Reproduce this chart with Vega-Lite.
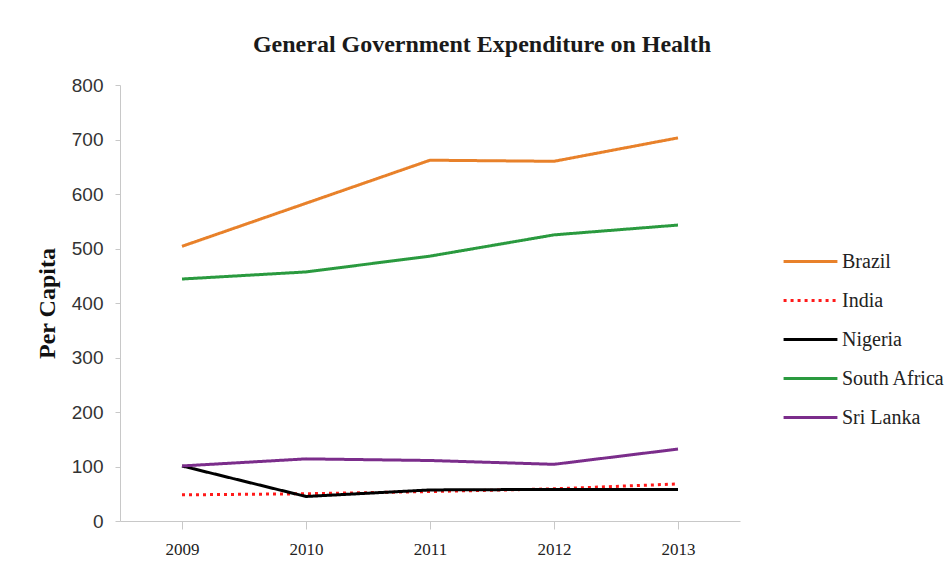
{
  "$schema": "https://vega.github.io/schema/vega-lite/v6.json",
  "width": 620,
  "height": 436,
  "autosize": {"type": "none"},
  "padding": {"left": 120, "top": 85, "right": 205, "bottom": 59},
  "background": "white",
  "title": {
    "text": "General Government Expenditure on Health",
    "font": "Liberation Serif",
    "fontSize": 24,
    "fontWeight": "bold",
    "color": "#1a1a1a",
    "anchor": "middle",
    "dx": 52,
    "offset": 19
  },
  "data": {
    "values": [
      {"country": "Brazil", "year": "2009", "value": 504},
      {"country": "Brazil", "year": "2010", "value": 583},
      {"country": "Brazil", "year": "2011", "value": 662},
      {"country": "Brazil", "year": "2012", "value": 660},
      {"country": "Brazil", "year": "2013", "value": 703},
      {"country": "India", "year": "2009", "value": 48},
      {"country": "India", "year": "2010", "value": 50},
      {"country": "India", "year": "2011", "value": 54},
      {"country": "India", "year": "2012", "value": 59},
      {"country": "India", "year": "2013", "value": 68},
      {"country": "Nigeria", "year": "2009", "value": 101},
      {"country": "Nigeria", "year": "2010", "value": 45},
      {"country": "Nigeria", "year": "2011", "value": 57},
      {"country": "Nigeria", "year": "2012", "value": 58},
      {"country": "Nigeria", "year": "2013", "value": 58},
      {"country": "South Africa", "year": "2009", "value": 444},
      {"country": "South Africa", "year": "2010", "value": 457},
      {"country": "South Africa", "year": "2011", "value": 486},
      {"country": "South Africa", "year": "2012", "value": 525},
      {"country": "South Africa", "year": "2013", "value": 543},
      {"country": "Sri Lanka", "year": "2009", "value": 101},
      {"country": "Sri Lanka", "year": "2010", "value": 114},
      {"country": "Sri Lanka", "year": "2011", "value": 111},
      {"country": "Sri Lanka", "year": "2012", "value": 104},
      {"country": "Sri Lanka", "year": "2013", "value": 132}
    ]
  },
  "mark": {"type": "line", "strokeWidth": 3},
  "encoding": {
    "x": {
      "field": "year",
      "type": "ordinal",
      "scale": {"type": "point", "padding": 0.5},
      "axis": {
        "title": null,
        "labelAngle": 0,
        "labelFont": "Liberation Serif",
        "labelFontSize": 17,
        "labelColor": "#222",
        "labelPadding": 12,
        "domainColor": "#c8c8c8",
        "tickColor": "#c8c8c8",
        "tickSize": 8,
        "grid": false
      }
    },
    "y": {
      "field": "value",
      "type": "quantitative",
      "scale": {"domain": [0, 800]},
      "axis": {
        "title": "Per Capita",
        "titleFont": "Liberation Serif",
        "titleFontSize": 24,
        "titleFontWeight": "bold",
        "titleColor": "#111",
        "titlePadding": 12,
        "values": [0, 100, 200, 300, 400, 500, 600, 700, 800],
        "labelFont": "Liberation Sans",
        "labelFontSize": 19,
        "labelColor": "#333",
        "labelPadding": 12,
        "domainColor": "#c8c8c8",
        "tickColor": "#c8c8c8",
        "tickSize": 5,
        "grid": false
      }
    },
    "color": {
      "field": "country",
      "type": "nominal",
      "scale": {
        "domain": ["Brazil", "India", "Nigeria", "South Africa", "Sri Lanka"],
        "range": ["#e8812a", "#ff1a1a", "#000000", "#2a9a3f", "#7b2d8b"]
      },
      "legend": {
        "title": null,
        "orient": "none",
        "legendX": 662,
        "legendY": 148,
        "symbolType": "stroke",
        "symbolSize": 2900,
        "symbolStrokeWidth": 3,
        "labelFont": "Liberation Serif",
        "labelFontSize": 20,
        "labelColor": "#222",
        "rowPadding": -1.5,
        "labelOffset": 3
      }
    },
    "strokeDash": {
      "field": "country",
      "type": "nominal",
      "scale": {
        "domain": ["Brazil", "India", "Nigeria", "South Africa", "Sri Lanka"],
        "range": [[1, 0], [3, 4], [1, 0], [1, 0], [1, 0]]
      },
      "legend": {
        "title": null,
        "orient": "none",
        "legendX": 662,
        "legendY": 148,
        "symbolType": "stroke",
        "symbolSize": 2900,
        "symbolStrokeWidth": 3,
        "labelFont": "Liberation Serif",
        "labelFontSize": 20,
        "labelColor": "#222",
        "rowPadding": -1.5,
        "labelOffset": 3
      }
    }
  },
  "config": {"view": {"stroke": null}}
}
